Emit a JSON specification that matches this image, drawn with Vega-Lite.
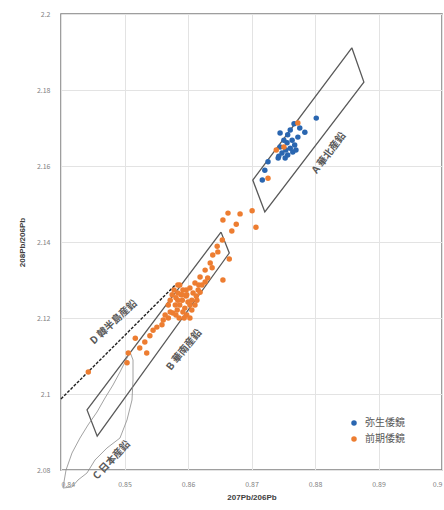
{
  "$schema": "https://vega.github.io/schema/vega-lite/v6.json",
  "width": 381,
  "height": 456,
  "autosize": {"type": "none"},
  "padding": {"left": 61, "top": 14, "right": 2, "bottom": 40},
  "background": "white",
  "config": {
    "view": {"stroke": "#7f7f7f", "strokeWidth": 1.5},
    "font": "Noto Sans CJK JP",
    "axis": {
      "domain": false,
      "ticks": false,
      "gridColor": "#e3e3e3",
      "gridWidth": 1,
      "labelColor": "#7f7f7f",
      "labelFontSize": 7,
      "titleColor": "#404040",
      "titleFontSize": 8,
      "titleFontWeight": "bold",
      "titleFont": "Liberation Sans"
    }
  },
  "datasets": {
    "pts": [
      {"g": "弥生倭鏡", "x": 0.8802, "y": 2.1726},
      {"g": "弥生倭鏡", "x": 0.8784, "y": 2.1689},
      {"g": "弥生倭鏡", "x": 0.8745, "y": 2.1687},
      {"g": "弥生倭鏡", "x": 0.8757, "y": 2.1682},
      {"g": "弥生倭鏡", "x": 0.8764, "y": 2.1668},
      {"g": "弥生倭鏡", "x": 0.8773, "y": 2.1676},
      {"g": "弥生倭鏡", "x": 0.8756, "y": 2.1661},
      {"g": "弥生倭鏡", "x": 0.8768, "y": 2.1655},
      {"g": "弥生倭鏡", "x": 0.8748, "y": 2.1634},
      {"g": "弥生倭鏡", "x": 0.8757, "y": 2.1629},
      {"g": "弥生倭鏡", "x": 0.8742, "y": 2.1621},
      {"g": "弥生倭鏡", "x": 0.8753, "y": 2.1621},
      {"g": "弥生倭鏡", "x": 0.8765, "y": 2.1637},
      {"g": "弥生倭鏡", "x": 0.8726, "y": 2.1611},
      {"g": "弥生倭鏡", "x": 0.8721, "y": 2.1589},
      {"g": "弥生倭鏡", "x": 0.8717, "y": 2.1563},
      {"g": "弥生倭鏡", "x": 0.8776, "y": 2.1700},
      {"g": "弥生倭鏡", "x": 0.8761, "y": 2.1695},
      {"g": "弥生倭鏡", "x": 0.8751, "y": 2.1668},
      {"g": "弥生倭鏡", "x": 0.8745, "y": 2.1650},
      {"g": "弥生倭鏡", "x": 0.8761, "y": 2.1647},
      {"g": "弥生倭鏡", "x": 0.8770, "y": 2.1642},
      {"g": "弥生倭鏡", "x": 0.8754, "y": 2.1642},
      {"g": "弥生倭鏡", "x": 0.8743, "y": 2.1626},
      {"g": "弥生倭鏡", "x": 0.8767, "y": 2.1711},
      {"g": "前期倭鏡", "x": 0.8773, "y": 2.1713},
      {"g": "前期倭鏡", "x": 0.8751, "y": 2.1650},
      {"g": "前期倭鏡", "x": 0.8726, "y": 2.1568},
      {"g": "前期倭鏡", "x": 0.8739, "y": 2.1642},
      {"g": "前期倭鏡", "x": 0.8663, "y": 2.1476},
      {"g": "前期倭鏡", "x": 0.8682, "y": 2.1474},
      {"g": "前期倭鏡", "x": 0.8701, "y": 2.1482},
      {"g": "前期倭鏡", "x": 0.8655, "y": 2.1458},
      {"g": "前期倭鏡", "x": 0.8676, "y": 2.1447},
      {"g": "前期倭鏡", "x": 0.8669, "y": 2.1429},
      {"g": "前期倭鏡", "x": 0.8707, "y": 2.1439},
      {"g": "前期倭鏡", "x": 0.8665, "y": 2.1355},
      {"g": "前期倭鏡", "x": 0.8655, "y": 2.1300},
      {"g": "前期倭鏡", "x": 0.8646, "y": 2.1389},
      {"g": "前期倭鏡", "x": 0.8639, "y": 2.1366},
      {"g": "前期倭鏡", "x": 0.8635, "y": 2.1345},
      {"g": "前期倭鏡", "x": 0.8627, "y": 2.1326},
      {"g": "前期倭鏡", "x": 0.8638, "y": 2.1332},
      {"g": "前期倭鏡", "x": 0.8619, "y": 2.1308},
      {"g": "前期倭鏡", "x": 0.8631, "y": 2.1305},
      {"g": "前期倭鏡", "x": 0.8611, "y": 2.1292},
      {"g": "前期倭鏡", "x": 0.8622, "y": 2.1287},
      {"g": "前期倭鏡", "x": 0.8654, "y": 2.1405},
      {"g": "前期倭鏡", "x": 0.8647, "y": 2.1374},
      {"g": "前期倭鏡", "x": 0.8587, "y": 2.1287},
      {"g": "前期倭鏡", "x": 0.8592, "y": 2.1274},
      {"g": "前期倭鏡", "x": 0.8584, "y": 2.1266},
      {"g": "前期倭鏡", "x": 0.8598, "y": 2.1261},
      {"g": "前期倭鏡", "x": 0.8608, "y": 2.1266},
      {"g": "前期倭鏡", "x": 0.8591, "y": 2.1247},
      {"g": "前期倭鏡", "x": 0.8600, "y": 2.1242},
      {"g": "前期倭鏡", "x": 0.8614, "y": 2.1247},
      {"g": "前期倭鏡", "x": 0.8587, "y": 2.1234},
      {"g": "前期倭鏡", "x": 0.8595, "y": 2.1226},
      {"g": "前期倭鏡", "x": 0.8606, "y": 2.1221},
      {"g": "前期倭鏡", "x": 0.8583, "y": 2.1221},
      {"g": "前期倭鏡", "x": 0.8598, "y": 2.1208},
      {"g": "前期倭鏡", "x": 0.8576, "y": 2.1213},
      {"g": "前期倭鏡", "x": 0.8569, "y": 2.1200},
      {"g": "前期倭鏡", "x": 0.8561, "y": 2.1195},
      {"g": "前期倭鏡", "x": 0.8559, "y": 2.1182},
      {"g": "前期倭鏡", "x": 0.8551, "y": 2.1176},
      {"g": "前期倭鏡", "x": 0.8545, "y": 2.1168},
      {"g": "前期倭鏡", "x": 0.8603, "y": 2.1279},
      {"g": "前期倭鏡", "x": 0.8581, "y": 2.1253},
      {"g": "前期倭鏡", "x": 0.8611, "y": 2.1234},
      {"g": "前期倭鏡", "x": 0.8592, "y": 2.1216},
      {"g": "前期倭鏡", "x": 0.8586, "y": 2.1200},
      {"g": "前期倭鏡", "x": 0.8603, "y": 2.1200},
      {"g": "前期倭鏡", "x": 0.8580, "y": 2.1234},
      {"g": "前期倭鏡", "x": 0.8572, "y": 2.1247},
      {"g": "前期倭鏡", "x": 0.8597, "y": 2.1258},
      {"g": "前期倭鏡", "x": 0.8589, "y": 2.1261},
      {"g": "前期倭鏡", "x": 0.8578, "y": 2.1274},
      {"g": "前期倭鏡", "x": 0.8616, "y": 2.1274},
      {"g": "前期倭鏡", "x": 0.8584, "y": 2.1287},
      {"g": "前期倭鏡", "x": 0.8575, "y": 2.1261},
      {"g": "前期倭鏡", "x": 0.8569, "y": 2.1234},
      {"g": "前期倭鏡", "x": 0.8619, "y": 2.1268},
      {"g": "前期倭鏡", "x": 0.8627, "y": 2.1295},
      {"g": "前期倭鏡", "x": 0.8613, "y": 2.1258},
      {"g": "前期倭鏡", "x": 0.8603, "y": 2.1234},
      {"g": "前期倭鏡", "x": 0.8591, "y": 2.1261},
      {"g": "前期倭鏡", "x": 0.8581, "y": 2.1208},
      {"g": "前期倭鏡", "x": 0.8572, "y": 2.1216},
      {"g": "前期倭鏡", "x": 0.8564, "y": 2.1208},
      {"g": "前期倭鏡", "x": 0.8617, "y": 2.1287},
      {"g": "前期倭鏡", "x": 0.8597, "y": 2.1274},
      {"g": "前期倭鏡", "x": 0.8606, "y": 2.1247},
      {"g": "前期倭鏡", "x": 0.8584, "y": 2.1247},
      {"g": "前期倭鏡", "x": 0.8594, "y": 2.1200},
      {"g": "前期倭鏡", "x": 0.8532, "y": 2.1137},
      {"g": "前期倭鏡", "x": 0.8524, "y": 2.1121},
      {"g": "前期倭鏡", "x": 0.8535, "y": 2.1108},
      {"g": "前期倭鏡", "x": 0.8506, "y": 2.1108},
      {"g": "前期倭鏡", "x": 0.8504, "y": 2.1082},
      {"g": "前期倭鏡", "x": 0.8443, "y": 2.1058},
      {"g": "前期倭鏡", "x": 0.8540, "y": 2.1153},
      {"g": "前期倭鏡", "x": 0.8517, "y": 2.1147}
    ],
    "shapes": [
      {"s": "A", "o": 1, "x": 0.8858, "y": 2.1911},
      {"s": "A", "o": 2, "x": 0.8877, "y": 2.1821},
      {"s": "A", "o": 3, "x": 0.8721, "y": 2.1479},
      {"s": "A", "o": 4, "x": 0.8702, "y": 2.1563},
      {"s": "A", "o": 5, "x": 0.8858, "y": 2.1911},
      {"s": "B", "o": 1, "x": 0.8652, "y": 2.1426},
      {"s": "B", "o": 2, "x": 0.8665, "y": 2.1371},
      {"s": "B", "o": 3, "x": 0.8457, "y": 2.0889},
      {"s": "B", "o": 4, "x": 0.8441, "y": 2.0958},
      {"s": "B", "o": 5, "x": 0.8652, "y": 2.1426},
      {"s": "D", "o": 1, "x": 0.8400, "y": 2.0987},
      {"s": "D", "o": 2, "x": 0.8580, "y": 2.1287},
      {"s": "C", "o": 1, "x": 0.84031, "y": 2.07526},
      {"s": "C", "o": 2, "x": 0.84079, "y": 2.07999},
      {"s": "C", "o": 3, "x": 0.84173, "y": 2.08447},
      {"s": "C", "o": 4, "x": 0.84299, "y": 2.08842},
      {"s": "C", "o": 5, "x": 0.84425, "y": 2.09184},
      {"s": "C", "o": 6, "x": 0.84567, "y": 2.09526},
      {"s": "C", "o": 7, "x": 0.84693, "y": 2.09895},
      {"s": "C", "o": 8, "x": 0.84819, "y": 2.10237},
      {"s": "C", "o": 9, "x": 0.84929, "y": 2.10579},
      {"s": "C", "o": 10, "x": 0.85024, "y": 2.10895},
      {"s": "C", "o": 11, "x": 0.85087, "y": 2.11105},
      {"s": "C", "o": 12, "x": 0.85134, "y": 2.10895},
      {"s": "C", "o": 13, "x": 0.85134, "y": 2.10368},
      {"s": "C", "o": 14, "x": 0.85118, "y": 2.09842},
      {"s": "C", "o": 15, "x": 0.85039, "y": 2.09316},
      {"s": "C", "o": 16, "x": 0.84929, "y": 2.08842},
      {"s": "C", "o": 17, "x": 0.84724, "y": 2.08579},
      {"s": "C", "o": 18, "x": 0.84535, "y": 2.08263},
      {"s": "C", "o": 19, "x": 0.84409, "y": 2.07921},
      {"s": "C", "o": 20, "x": 0.84268, "y": 2.07737},
      {"s": "C", "o": 21, "x": 0.84173, "y": 2.07553},
      {"s": "C", "o": 22, "x": 0.84031, "y": 2.07526}
    ],
    "labels": [
      {"t": "A 華北産鉛", "x": 0.8822, "y": 2.1634, "a": -53},
      {"t": "B 華南産鉛", "x": 0.8594, "y": 2.1116, "a": -51},
      {"t": "C 日本産鉛", "x": 0.8480, "y": 2.0826, "a": -47},
      {"t": "D 韓半島産鉛", "x": 0.8483, "y": 2.1189, "a": -43}
    ]
  },
  "encoding": {
    "x": {
      "field": "x", "type": "quantitative",
      "scale": {"domain": [0.84, 0.9], "nice": false, "zero": false},
      "axis": {"values": [0.84, 0.85, 0.86, 0.87, 0.88, 0.89, 0.9], "format": ".2~f", "title": "207Pb/206Pb", "labelPadding": 10, "titlePadding": 6}
    },
    "y": {
      "field": "y", "type": "quantitative",
      "scale": {"domain": [2.08, 2.2], "nice": false, "zero": false},
      "axis": {"values": [2.08, 2.1, 2.12, 2.14, 2.16, 2.18, 2.2], "format": ".2~f", "title": "208Pb/206Pb", "labelPadding": 11, "titlePadding": 10}
    }
  },
  "layer": [
    {
      "data": {"name": "shapes"},
      "transform": [{"filter": "datum.s === 'A' || datum.s === 'B'"}],
      "mark": {"type": "line", "color": "#595959", "strokeWidth": 1.3},
      "encoding": {"detail": {"field": "s"}, "order": {"field": "o", "type": "quantitative"}}
    },
    {
      "data": {"name": "shapes"},
      "transform": [{"filter": "datum.s === 'C'"}],
      "mark": {"type": "line", "color": "#8a8a8a", "strokeWidth": 0.8},
      "encoding": {"detail": {"field": "s"}, "order": {"field": "o", "type": "quantitative"}}
    },
    {
      "data": {"name": "shapes"},
      "transform": [{"filter": "datum.s === 'D'"}],
      "mark": {"type": "line", "color": "#202020", "strokeWidth": 1.4, "strokeDash": [3, 1.5]},
      "encoding": {"detail": {"field": "s"}, "order": {"field": "o", "type": "quantitative"}}
    },
    {
      "data": {"name": "pts"},
      "mark": {"type": "circle", "size": 30, "opacity": 1},
      "encoding": {
        "color": {
          "field": "g", "type": "nominal",
          "scale": {"domain": ["弥生倭鏡", "前期倭鏡"], "range": ["#2A66B0", "#ED7D31"]},
          "legend": {
            "title": null, "orient": "none", "legendX": 288, "legendY": 404,
            "symbolType": "circle", "symbolSize": 30, "labelFontSize": 10,
            "labelColor": "#595959", "rowPadding": 6, "labelOffset": 6
          }
        }
      }
    },
    {
      "data": {"name": "labels"},
      "mark": {"type": "text", "fontSize": 10, "color": "#595959", "fontWeight": "bold", "align": "center", "baseline": "middle"},
      "encoding": {"text": {"field": "t"}, "angle": {"field": "a", "type": "quantitative", "scale": null}}
    }
  ]
}
